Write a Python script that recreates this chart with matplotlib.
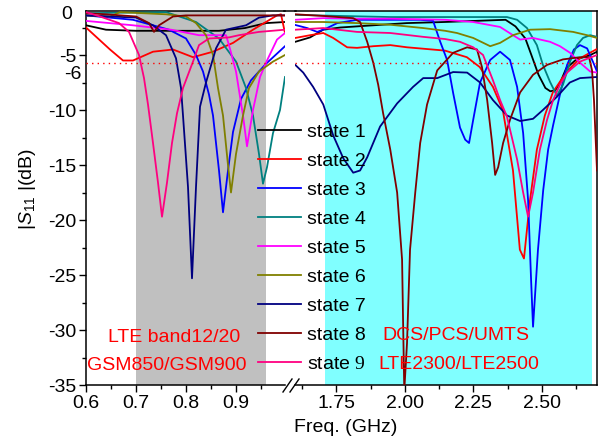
import matplotlib
matplotlib.use('Agg')
import matplotlib.pyplot as plt
from matplotlib.lines import Line2D
from matplotlib.ticker import MultipleLocator

plt.rcParams['font.family'] = ['Liberation Sans', 'DejaVu Sans']
plt.rcParams['font.size'] = 14
plt.rcParams['mathtext.fontset'] = 'custom'
plt.rcParams['mathtext.rm'] = 'Liberation Serif'
plt.rcParams['mathtext.it'] = 'Liberation Sans:italic'
plt.rcParams['mathtext.sf'] = 'Liberation Sans'

# ---- data (GHz, dB) : low band panel ----
s1_lo_x = [0.6, 0.64, 0.70, 0.79, 0.866, 0.918, 0.96, 0.998]
s1_lo_y = [-2.3, -2.7, -2.8, -2.8, -2.8, -2.55, -2.1, -2.0]
s2_lo_x = [0.6, 0.648, 0.674, 0.694, 0.734, 0.774, 0.814, 0.854, 0.894, 0.934, 0.982, 0.99, 0.998]
s2_lo_y = [-2.5, -4.5, -5.5, -5.5, -4.7, -4.5, -5.2, -4.7, -3.9, -2.7, -1.4, -1.3, -3.0]
s3_lo_x = [0.6, 0.694, 0.766, 0.8, 0.82, 0.834, 0.846, 0.854, 0.866, 0.874, 0.884, 0.894, 0.91, 0.93, 0.96, 0.998]
s3_lo_y = [-1.4, -1.8, -2.7, -3.5, -5.0, -6.5, -8.6, -10.5, -15.5, -19.3, -15.5, -12.0, -9.0, -7.3, -5.8, -4.2]
s4_lo_x = [0.6, 0.76, 0.82, 0.866, 0.9, 0.92, 0.934, 0.946, 0.954, 0.962, 0.974, 0.988, 0.998]
s4_lo_y = [-1.2, -1.1, -2.0, -3.5, -5.6, -8.0, -10.5, -14.0, -16.7, -15.2, -12.1, -10.0, -7.0]
s5_lo_x = [0.6, 0.694, 0.77, 0.826, 0.88, 0.886, 0.9, 0.914, 0.922, 0.934, 0.948, 0.962, 0.982, 0.998]
s5_lo_y = [-1.9, -2.3, -2.7, -3.2, -3.2, -4.1, -6.5, -10.5, -13.3, -10.0, -7.0, -5.5, -3.6, -3.0]
s6_lo_x = [0.6, 0.648, 0.668, 0.76, 0.8, 0.82, 0.84, 0.854, 0.864, 0.874, 0.884, 0.89, 0.9, 0.914, 0.926, 0.946, 0.974, 0.998]
s6_lo_y = [-1.4, -1.5, -1.1, -1.3, -1.5, -2.1, -3.2, -5.0, -8.0, -10.5, -15.0, -17.5, -14.0, -10.5, -8.0, -6.5, -5.6, -5.0]
s7_lo_x = [0.6, 0.7, 0.734, 0.76, 0.78, 0.79, 0.794, 0.804, 0.812, 0.82, 0.828, 0.84, 0.86, 0.88, 0.92, 0.946, 0.974, 0.998]
s7_lo_y = [-1.4, -1.6, -2.3, -3.2, -5.3, -8.0, -10.5, -17.0, -25.3, -17.0, -9.7, -7.5, -4.4, -2.7, -2.3, -1.6, -1.4, -1.4]
s8_lo_x = [0.6, 0.64, 0.7, 0.726, 0.736, 0.746, 0.774, 0.8, 0.998]
s8_lo_y = [-1.2, -1.3, -1.5, -2.1, -2.9, -2.3, -1.5, -1.4, -1.4]
s9_lo_x = [0.6, 0.628, 0.666, 0.686, 0.706, 0.716, 0.724, 0.734, 0.744, 0.752, 0.762, 0.772, 0.782, 0.794,
           0.814, 0.826, 0.846, 0.886, 0.906, 0.946, 0.998]
s9_lo_y = [-1.1, -1.5, -2.1, -2.9, -5.0, -7.1, -9.5, -13.0, -16.6, -19.7, -16.6, -13.0, -10.3, -8.0,
           -5.6, -4.1, -3.5, -3.4, -3.2, -2.9, -2.7]

# ---- data : high band panel ----
s1_hi_x = [1.601, 1.655, 1.703, 1.765, 1.885, 2.007, 2.145, 2.367, 2.403, 2.439, 2.461, 2.487, 2.512, 2.53,
           2.548, 2.566, 2.588, 2.625, 2.676, 2.70]
s1_hi_y = [-3.8, -3.4, -2.7, -2.5, -2.3, -2.1, -2.0, -1.8, -2.4, -3.5, -5.0, -6.8, -8.0, -8.3,
           -8.2, -7.5, -6.2, -5.4, -5.0, -4.7]
s2_hi_x = [1.601, 1.655, 1.703, 1.739, 1.790, 1.826, 1.885, 1.947, 2.008, 2.146, 2.226, 2.273, 2.321, 2.357,
           2.394, 2.419, 2.434, 2.456, 2.481, 2.510, 2.539, 2.590, 2.638, 2.70]
s2_hi_y = [-3.45, -3.2, -3.0, -3.45, -4.3, -4.35, -4.2, -4.1, -4.3, -4.6, -5.2, -6.1, -7.9, -10.0,
           -15.5, -22.7, -23.5, -18.2, -13.6, -10.5, -8.4, -6.5, -5.3, -4.45]
s3_hi_x = [1.601, 1.644, 1.681, 1.717, 1.754, 1.826, 1.947, 2.056, 2.103, 2.129, 2.154, 2.176, 2.201, 2.220,
           2.234, 2.249, 2.274, 2.311, 2.347, 2.383, 2.409, 2.431, 2.449, 2.460, 2.467, 2.485, 2.504, 2.522,
           2.540, 2.565, 2.591, 2.616, 2.638, 2.664, 2.685, 2.70]
s3_hi_y = [-2.27, -2.55, -2.9, -2.55, -2.1, -1.8, -1.8, -1.8, -1.9, -3.8, -5.45, -8.45, -11.6, -12.7,
           -13.0, -10.9, -7.5, -5.45, -4.7, -5.45, -7.9, -12.1, -18.2, -25.5, -29.7, -22.7, -17.3, -13.6,
           -11.4, -8.6, -5.9, -4.5, -4.1, -4.4, -5.6, -6.5]
s4_hi_x = [1.601, 1.765, 1.947, 2.147, 2.372, 2.409, 2.445, 2.481, 2.503, 2.529, 2.554, 2.576, 2.602, 2.627,
           2.649, 2.675, 2.70]
s4_hi_y = [-1.35, -1.45, -1.55, -1.55, -1.55, -1.8, -2.55, -4.1, -5.9, -7.45, -8.7, -7.7, -5.6, -4.1,
           -3.45, -3.2, -3.35]
s5_hi_x = [1.601, 1.703, 1.826, 1.947, 2.147, 2.249, 2.347, 2.394, 2.420, 2.467, 2.529, 2.565, 2.602, 2.638,
           2.675, 2.70]
s5_hi_y = [-1.8, -1.65, -1.7, -1.7, -1.8, -2.0, -2.45, -3.2, -3.6, -3.45, -3.8, -4.2, -4.8, -5.7,
           -6.5, -6.6]
s6_hi_x = [1.601, 1.703, 1.826, 1.947, 2.067, 2.147, 2.19, 2.249, 2.311, 2.347, 2.394, 2.456, 2.529, 2.613,
           2.664, 2.70]
s6_hi_y = [-2.0, -2.0, -2.1, -2.25, -2.55, -2.8, -3.0, -3.45, -4.2, -3.9, -3.2, -2.7, -2.65, -2.9,
           -3.2, -3.45]
s7_hi_x = [1.601, 1.630, 1.666, 1.703, 1.739, 1.776, 1.812, 1.837, 1.863, 1.91, 1.972, 2.03, 2.067, 2.118,
           2.176, 2.227, 2.274, 2.321, 2.372, 2.42, 2.467, 2.503, 2.554, 2.601, 2.638, 2.70]
s7_hi_y = [-5.9, -6.6, -7.9, -9.5, -12.3, -14.4, -15.7, -15.5, -14.3, -11.5, -9.4, -7.9, -7.1, -7.1,
           -6.55, -6.6, -7.5, -9.1, -10.5, -11.0, -10.8, -10.0, -8.8, -7.5, -7.1, -7.0]
s8_hi_x = [1.601, 1.703, 1.812, 1.837, 1.863, 1.885, 1.903, 1.921, 1.947, 1.972, 1.990, 1.994, 1.998, 2.008,
           2.019, 2.038, 2.056, 2.081, 2.118, 2.176, 2.227, 2.263, 2.281, 2.30, 2.318, 2.329, 2.34, 2.358,
           2.383, 2.42, 2.467, 2.518, 2.576, 2.638, 2.671, 2.682, 2.689, 2.70]
s8_hi_y = [-1.3, -1.45, -1.65, -2.0, -3.8, -5.7, -7.7, -10.3, -13.6, -17.5, -23.6, -29.7, -35.5, -31.2,
           -22.7, -17.5, -13.0, -9.5, -6.4, -4.8, -4.3, -4.5, -6.1, -9.1, -13.0, -15.9, -15.2, -13.0,
           -10.9, -8.4, -6.8, -5.9, -5.4, -5.2, -5.2, -6.4, -9.1, -15.5]
s9_hi_x = [1.601, 1.703, 1.826, 1.947, 2.067, 2.147, 2.201, 2.249, 2.285, 2.321, 2.347, 2.372, 2.409, 2.431,
           2.449, 2.467, 2.492, 2.518, 2.54, 2.565, 2.591, 2.638, 2.70]
s9_hi_y = [-2.7, -2.55, -2.9, -3.0, -3.35, -3.55, -3.8, -4.3, -5.0, -7.3, -9.1, -10.6, -14.5, -17.5,
           -19.7, -17.5, -13.6, -10.9, -9.1, -7.7, -6.6, -5.6, -5.0]

labels = ['state 1', 'state 2', 'state 3', 'state 4', 'state 5', 'state 6', 'state 7', 'state 8', 'state $9$']
colors = ['#000000', '#ff0000', '#0000ff', '#008080', '#ff00ff', '#808000', '#000080', '#800000', '#ff0080']

lo_x = [s1_lo_x, s2_lo_x, s3_lo_x, s4_lo_x, s5_lo_x, s6_lo_x, s7_lo_x, s8_lo_x, s9_lo_x]
lo_y = [s1_lo_y, s2_lo_y, s3_lo_y, s4_lo_y, s5_lo_y, s6_lo_y, s7_lo_y, s8_lo_y, s9_lo_y]
hi_x = [s1_hi_x, s2_hi_x, s3_hi_x, s4_hi_x, s5_hi_x, s6_hi_x, s7_hi_x, s8_hi_x, s9_hi_x]
hi_y = [s1_hi_y, s2_hi_y, s3_hi_y, s4_hi_y, s5_hi_y, s6_hi_y, s7_hi_y, s8_hi_y, s9_hi_y]

W, H = 602, 440
fig = plt.figure(figsize=(W / 100, H / 100), dpi=100)
ax1 = fig.add_axes([86 / W, 55 / H, 199 / W, 374 / H])
ax2 = fig.add_axes([295 / W, 55 / H, 302 / W, 374 / H])

ax1.axvspan(0.7, 0.96, color='#c0c0c0', lw=0, zorder=0)
ax2.axvspan(1.71, 2.68, color='#80ffff', lw=0, zorder=0)

handles = []
for i in range(9):
    h, = ax1.plot(lo_x[i], lo_y[i], color=colors[i], lw=1.3, zorder=2 + i)
    ax2.plot(hi_x[i], hi_y[i], color=colors[i], lw=1.3, zorder=2 + i)
    handles.append(h)

for ax in (ax1, ax2):
    ax.axhline(-5.7, color='red', ls=(0, (1, 3)), lw=1, zorder=20)
    ax.set_ylim(-35, -1)
    for s in ax.spines.values():
        s.set_linewidth(1.1)
    ax.tick_params(which='major', direction='out', length=5, width=1, pad=2)
    ax.tick_params(which='minor', direction='out', length=3, width=1)

ax1.set_xlim(0.6, 0.998)
ax2.set_xlim(1.6, 2.7)
ax1.spines['right'].set_visible(False)
ax2.spines['left'].set_visible(False)

ax1.set_xticks([0.6, 0.7, 0.8, 0.9])
ax1.set_xticklabels(['0.6', '0.7', '0.8', '0.9'])
ax1.xaxis.set_minor_locator(MultipleLocator(0.05))
ax1.set_yticks([-35, -30, -25, -20, -15, -10, -5])
ax1.set_yticklabels(['-35', '-30', '-25', '-20', '-15', '-10', '-5'])
ax1.yaxis.set_minor_locator(MultipleLocator(2.5))
ax1.text(0.572, -1.35, '0', ha='right', va='center', clip_on=False)
ax1.text(0.592, -6.75, '-6', ha='right', va='center', clip_on=False)

ax2.set_xticks([1.75, 2.0, 2.25, 2.5])
ax2.set_xticklabels(['1.75', '2.00', '2.25', '2.50'])
ax2.xaxis.set_minor_locator(MultipleLocator(0.125))
ax2.tick_params(axis='y', which='both', left=False, labelleft=False)

# top frame over the gap and the break marks
fig.add_artist(Line2D([284 / W, 296 / W], [1 - 11 / H, 1 - 11 / H], transform=fig.transFigure,
                      color='black', lw=1.1))
for dx in (0, 7):
    fig.add_artist(Line2D([(283 + dx) / W, (292 + dx) / W], [1 - 392 / H, 1 - 379 / H],
                          transform=fig.transFigure, color='black', lw=1))

fig.legend(handles, labels, loc='upper left', bbox_to_anchor=(258 / W, 1 - 123 / H), frameon=False,
           handlelength=2.2, handletextpad=0.3, labelspacing=0.59, borderpad=0, borderaxespad=0,
           fontsize=14)

red = '#ff0000'
fig.text(174 / W, 1 - 337 / H, 'LTE band12/20', color=red, ha='center', va='center')
fig.text(167 / W, 1 - 365 / H, 'GSM850/GSM900', color=red, ha='center', va='center')
fig.text(456 / W, 1 - 335 / H, 'DCS/PCS/UMTS', color=red, ha='center', va='center')
fig.text(459 / W, 1 - 364 / H, 'LTE2300/LTE2500', color=red, ha='center', va='center')

fig.text(346 / W, 1 - 427 / H, 'Freq. (GHz)', ha='center', va='center')
fig.text(27 / W, 1 - 189 / H, r'|$S_{\mathsf{11}}$ |(dB)', rotation=90, ha='center', va='center')

fig.savefig('out.png', dpi=100)
